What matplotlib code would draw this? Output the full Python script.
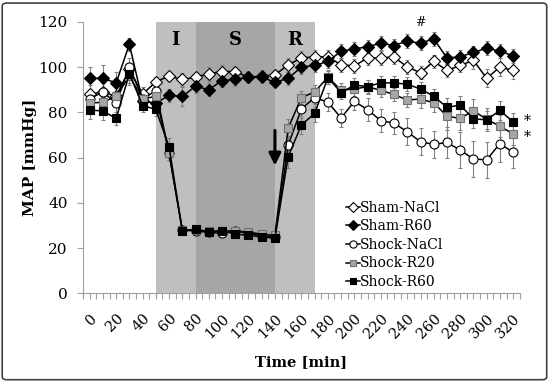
import matplotlib
matplotlib.use("Agg")
import matplotlib.pyplot as plt
from matplotlib.patches import FancyBboxPatch
import numpy as np

plt.rcParams['font.family'] = ['DejaVu Serif']

time_min = list(range(0, 321, 10))
tick_labels = [str(t) for t in range(0, 321, 20)]

sham_nacl = [88, 89, 87, 99, 88, 93.5, 96, 94.5, 95.5, 97, 98, 98, 95.5, 96, 96.5,
             101, 104, 104.5, 104.5, 101, 100.5, 104, 104, 104.5, 100, 97.5, 102.5,
             98.5, 100.7, 103, 95, 100, 98.5]
sham_nacl_err = [4, 4, 4, 3, 3, 2, 2, 3, 2, 3, 3, 2, 2, 2, 2,
                 3, 3, 3, 3, 3, 3, 3, 3, 3, 3, 3, 3, 3, 3, 4, 4, 4, 4]
sham_r60 = [95, 95, 93, 110, 85, 84, 87.5, 87, 91.5, 90, 94, 94.5, 95.5, 95.5, 93.3,
            95, 100, 100.7, 102.5, 107, 108, 109, 110.5, 109.5, 111.5, 110.5, 112.5,
            104, 104.5, 106.5, 108.3, 107, 105]
sham_r60_err = [5, 6, 5, 3, 3, 3, 3, 4, 3, 3, 3, 3, 2, 2, 2,
                3, 3, 3, 3, 3, 3, 3, 3, 3, 3, 3, 3, 3, 3, 3, 3, 3, 3]
shock_nacl = [86, 89, 84, 100, 86, 89.5, 62, 28, 27.5, 27, 26.5, 27.5, 26.5, 25.5, 25,
              65.5, 81.5, 86.5, 84.5, 77.5, 84.8, 81.2, 76.3, 75.2, 71.4, 67, 65.8,
              66.7, 63.3, 59.4, 59, 66.2, 62.3]
shock_nacl_err = [4, 4, 4, 4, 3, 3, 3, 1, 1, 1, 1, 1, 1, 1, 1,
                  4, 4, 4, 4, 4, 4, 5, 5, 5, 6, 6, 6, 7, 8, 8, 8, 8, 7]
shock_r20 = [84, 84.5, 87, 96, 86, 87, 62, 28, 28, 27.5, 27.5, 27.7, 27, 26.2, 25.6,
             73, 86.5, 89, 95.5, 89.8, 90.3, 91.3, 89.7, 87.9, 85.4, 85.9, 84.2,
             78.3, 77.3, 80.7, 76.9, 73.9, 70.4]
shock_r20_err = [4, 4, 4, 4, 3, 3, 3, 1, 1, 1, 1, 1, 1, 1, 1,
                 4, 3, 3, 3, 3, 3, 3, 3, 3, 3, 4, 4, 6, 5, 5, 5, 5, 5]
shock_r60 = [81, 80.6, 77.3, 97, 83, 81.3, 64.8, 27.7, 28.3, 27.2, 27.7, 26.2, 25.6, 25, 24.3,
             60.4, 74.4, 79.5, 95.3, 88.7, 92, 91.4, 93, 93, 92.4, 90.3, 87.1,
             82.2, 83.2, 77.1, 76.7, 80.8, 75.8]
shock_r60_err = [4, 4, 3, 4, 3, 3, 4, 1, 1, 1, 1, 1, 1, 1, 1,
                 5, 4, 4, 3, 3, 3, 3, 3, 3, 3, 3, 3, 4, 4, 4, 4, 4, 4]

series_names = ["Sham-NaCl", "Sham-R60", "Shock-NaCl", "Shock-R20", "Shock-R60"]

phases = [("I", 50, 80, '#BFBFBF'), ("S", 80, 140, '#A6A6A6'), ("R", 140, 170, '#BFBFBF')]

fig = plt.figure(figsize=(5.5, 3.82), dpi=100)
ax = fig.add_axes([0.151, 0.232, 0.794, 0.711])

for label, x0, x1, col in phases:
    ax.axvspan(x0, x1, ymin=0, ymax=1, color=col, lw=0, zorder=0)
    ax.text((x0 + x1) / 2, 112, label, ha='center', va='center',
            fontsize=13, fontweight='bold', zorder=1)

styles = [
    dict(marker='D', mfc='white', mec='black', ms=6.0),
    dict(marker='D', mfc='black', mec='black', ms=6.0),
    dict(marker='o', mfc='white', mec='black', ms=6.5),
    dict(marker='s', mfc='#A6A6A6', mec='#707070', ms=6),
    dict(marker='s', mfc='black', mec='black', ms=6),
]
data = [sham_nacl, sham_r60, shock_nacl, shock_r20, shock_r60]
errs = [sham_nacl_err, sham_r60_err, shock_nacl_err, shock_r20_err, shock_r60_err]

x = np.array(time_min)
for i, (y, e) in enumerate(zip(data, errs)):
    ax.errorbar(x, y, yerr=e, fmt='none', ecolor='#808080', elinewidth=0.8,
                capsize=1.5, capthick=0.8, zorder=2 + i * 0.1)
for i, (y, st, name) in enumerate(zip(data, styles, series_names)):
    ax.plot(x, y, color='black', lw=1.1, mew=0.8, label=name, zorder=3 + i, **st)

ax.set_xlim(-5, 325)
ax.set_ylim(0, 120)
ax.set_yticks(range(0, 121, 20))
ax.set_xticks(range(0, 321, 20))
ax.set_xticklabels(tick_labels, rotation=45, ha='right', va='top',
                   rotation_mode='anchor', fontsize=10.5)
ax.set_xticks(np.arange(-5, 326, 5), minor=True)
ax.tick_params(axis='both', which='both', direction='out', length=4,
               color='#A0A0A0', width=0.8)
ax.tick_params(axis='y', which='major', labelsize=11, pad=7)
ax.tick_params(axis='x', which='major', pad=9)
for side in ['top', 'right']:
    ax.spines[side].set_visible(False)
for side in ['left', 'bottom']:
    ax.spines[side].set_color('#A0A0A0')
    ax.spines[side].set_linewidth(0.8)

ax.set_xlabel("Time [min]", fontsize=10.5, fontweight='bold', labelpad=10)
ax.set_ylabel("MAP [mmHg]", fontsize=11, fontweight='bold', labelpad=1)

ax.annotate('', xy=(140, 56.5), xytext=(140, 72),
            arrowprops=dict(arrowstyle='-|>', lw=2.2, color='black',
                            mutation_scale=18, shrinkA=0, shrinkB=0), zorder=10)
ax.text(250, 119.5, '#', ha='center', va='center', fontsize=9, zorder=10)
ax.text(331, 76, '*', ha='center', va='center', fontsize=10, clip_on=False)
ax.text(331, 69, '*', ha='center', va='center', fontsize=10, clip_on=False)

leg = ax.legend(loc='upper left', bbox_to_anchor=(0.58, 0.377), frameon=False,
                fontsize=10, handlelength=1.0, handletextpad=0.0,
                labelspacing=0.33, borderpad=0.2, markerscale=0.8)

fig.patches.append(FancyBboxPatch((0.004, 0.006), 0.99, 0.986,
                                  boxstyle='round,pad=0,rounding_size=0.008',
                                  transform=fig.transFigure, fill=False,
                                  edgecolor='#404040', lw=1.2))

fig.savefig('out.png', dpi=100)
